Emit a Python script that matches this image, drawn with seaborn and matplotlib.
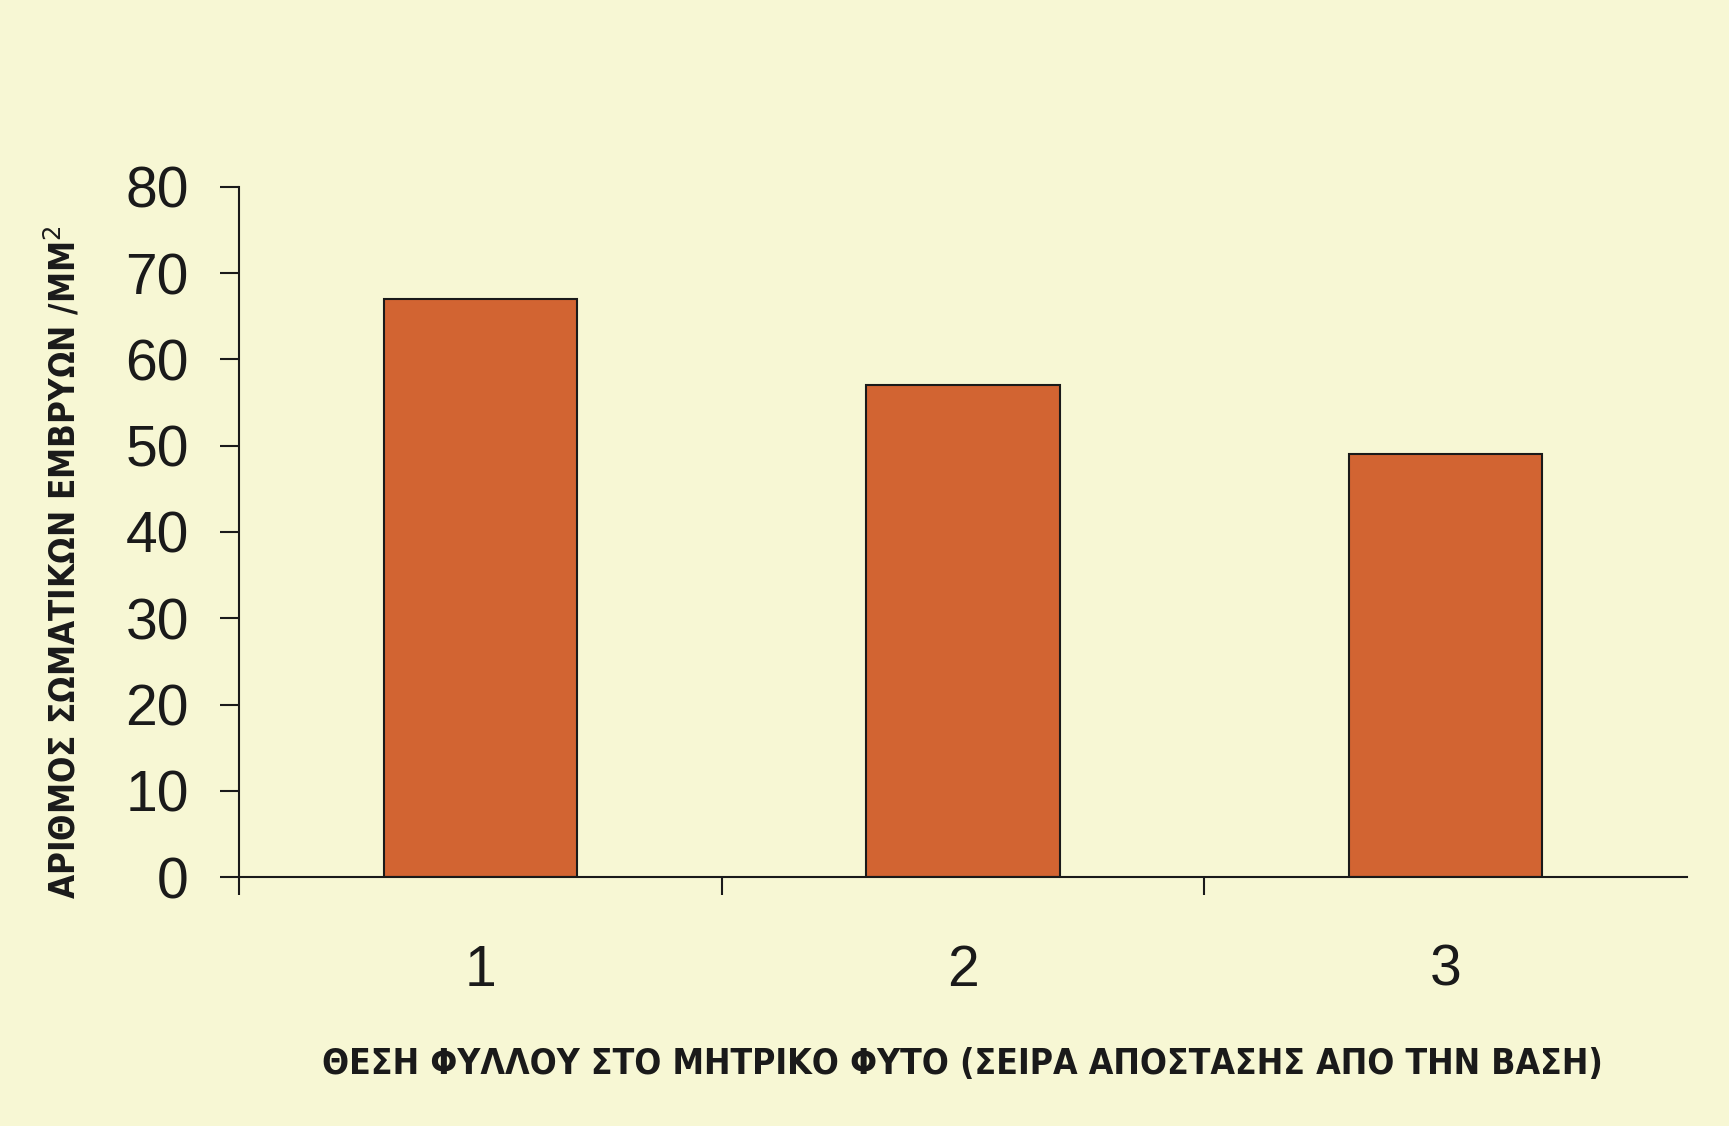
import matplotlib
matplotlib.use('Agg')
import matplotlib.pyplot as plt
import seaborn as sns
import pandas as pd

positions = ['1', '2', '3']
embryos = [67, 57, 49]
y_ticks = [0, 10, 20, 30, 40, 50, 60, 70, 80]

bg = '#F7F7D4'
bar_color = '#D26432'

sns.set_style('white')
plt.rcParams['font.family'] = ['Liberation Sans', 'DejaVu Sans']

df = pd.DataFrame({'pos': positions, 'val': embryos})

fig = plt.figure(figsize=(17.29, 11.26), dpi=100, facecolor=bg)
ax = fig.add_axes([0.1382, 0.2211, 0.9757 - 0.1382, 0.834 - 0.2211])
ax.set_facecolor(bg)

sns.barplot(data=df, x='pos', y='val', color=bar_color, width=0.4,
            edgecolor='#1a1a1a', linewidth=1.5, saturation=1, ax=ax)

ax.set_xlim(-0.5, 2.5)
ax.set_ylim(0, 80)
ax.set_yticks(y_ticks)

for s in ['top', 'right']:
    ax.spines[s].set_visible(False)
for s in ['left', 'bottom']:
    ax.spines[s].set_linewidth(1.5)
    ax.spines[s].set_color('#1a1a1a')

ax.tick_params(axis='y', direction='out', length=14, width=1.5, color='#1a1a1a',
               labelsize=41, pad=22, labelcolor='#1a1a1a', left=True)
ax.tick_params(axis='x', which='major', length=0, labelsize=41, pad=48,
               labelcolor='#1a1a1a')
ax.set_xticks([-0.5, 0.5, 1.5], minor=True)
ax.tick_params(axis='x', which='minor', direction='out', length=13, width=1.5,
               color='#1a1a1a', bottom=True)

ax.set_xlabel('')
ax.set_ylabel('')

# axis titles, condensed bold
fig.text(0.0364, 0.5009, 'ΑΡΙΘΜΟΣ ΣΩΜΑΤΙΚΩΝ ΕΜΒΡΥΩΝ /MM$^{2}$', rotation=90,
         ha='center', va='center', fontsize=25, fontweight='bold',
         family='DejaVu Sans', fontstretch='condensed', color='#1a1a1a')
fig.text(0.5565, 0.055, 'ΘΕΣΗ ΦΥΛΛΟΥ ΣΤΟ ΜΗΤΡΙΚΟ ΦΥΤΟ (ΣΕΙΡΑ ΑΠΟΣΤΑΣΗΣ ΑΠΟ ΤΗΝ ΒΑΣΗ)',
         ha='center', va='center', fontsize=25.5, fontweight='bold',
         family='DejaVu Sans', fontstretch='condensed', color='#1a1a1a')

fig.savefig('out.png', dpi=100, facecolor=bg)
